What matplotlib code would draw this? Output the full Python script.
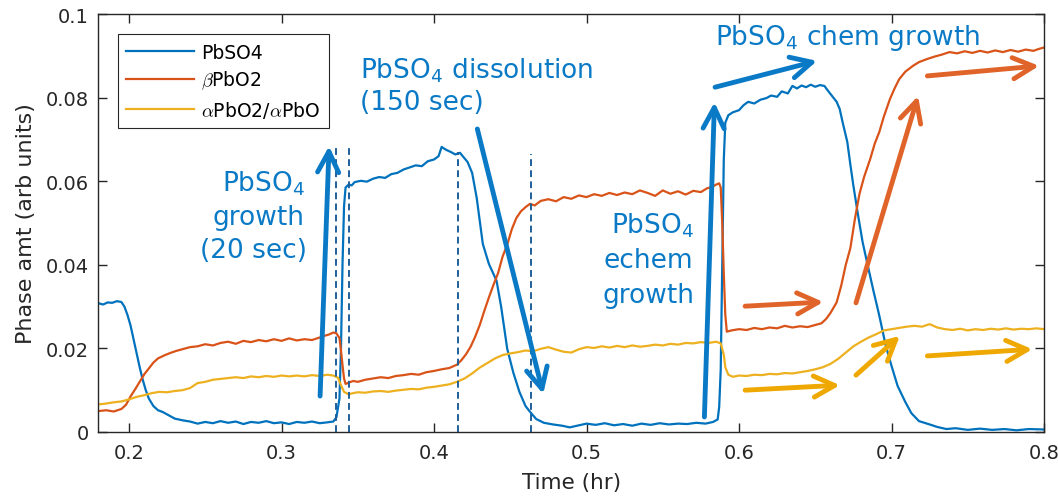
import matplotlib
matplotlib.use('Agg')
import numpy as np
from matplotlib import pyplot as plt
from matplotlib.font_manager import FontProperties

plt.rcParams['font.family'] = ['DejaVu Sans']
plt.rcParams['mathtext.fontset'] = 'dejavusans'

###################################################### data
t_pbso4 = [0.180, 0.183, 0.186, 0.189, 0.192, 0.195, 0.197, 0.199, 0.201, 0.203,
           0.205, 0.207, 0.209, 0.211, 0.213, 0.216, 0.219, 0.222, 0.226, 0.230,
           0.235, 0.240, 0.245, 0.250, 0.255, 0.260, 0.265, 0.270, 0.275, 0.280,
           0.285, 0.290, 0.295, 0.300, 0.305, 0.310, 0.315, 0.320, 0.325, 0.330,
           0.334, 0.336, 0.338, 0.339, 0.340, 0.341, 0.342, 0.344, 0.346, 0.348,
           0.352, 0.356, 0.360, 0.364, 0.368, 0.372, 0.376, 0.380, 0.384, 0.388,
           0.392, 0.396, 0.400, 0.403, 0.405, 0.408, 0.411, 0.414, 0.417, 0.420,
           0.422, 0.425, 0.428, 0.432, 0.436, 0.441, 0.444, 0.446, 0.448, 0.452,
           0.456, 0.460, 0.463, 0.467, 0.472, 0.478, 0.484, 0.489, 0.495, 0.500,
           0.506, 0.512, 0.518, 0.524, 0.530, 0.536, 0.542, 0.548, 0.554, 0.560,
           0.566, 0.572, 0.578, 0.583, 0.586, 0.587, 0.588, 0.589, 0.590, 0.591,
           0.593, 0.596, 0.600, 0.603, 0.606, 0.610, 0.614, 0.618, 0.621, 0.625,
           0.628, 0.632, 0.635, 0.638, 0.641, 0.644, 0.647, 0.650, 0.653, 0.656,
           0.658, 0.661, 0.664, 0.666, 0.668, 0.671, 0.673, 0.675, 0.678, 0.681,
           0.684, 0.688, 0.692, 0.696, 0.700, 0.704, 0.709, 0.713, 0.718, 0.725,
           0.730, 0.736, 0.742, 0.750, 0.758, 0.766, 0.774, 0.782, 0.790, 0.800]
v_pbso4 = [0.0308, 0.0305, 0.0310, 0.0309, 0.0313, 0.0311, 0.0300, 0.0280, 0.0255, 0.0222,
           0.0190, 0.0155, 0.0125, 0.0100, 0.0080, 0.0062, 0.0052, 0.0048, 0.0040, 0.0032,
           0.0028, 0.0025, 0.0020, 0.0024, 0.0021, 0.0026, 0.0022, 0.0025, 0.0019, 0.0024,
           0.0022, 0.0026, 0.0021, 0.0023, 0.0019, 0.0024, 0.0022, 0.0025, 0.0021, 0.0023,
           0.0025, 0.0035, 0.0080, 0.0200, 0.0400, 0.0540, 0.0585, 0.0592, 0.0590, 0.0598,
           0.0601, 0.0599, 0.0606, 0.0610, 0.0608, 0.0617, 0.0620, 0.0628, 0.0633, 0.0638,
           0.0636, 0.0648, 0.0652, 0.0660, 0.0682, 0.0675, 0.0670, 0.0664, 0.0668, 0.0655,
           0.0646, 0.0620, 0.0560, 0.0450, 0.0402, 0.0362, 0.0300, 0.0250, 0.0199, 0.0142,
           0.0096, 0.0062, 0.0048, 0.0031, 0.0022, 0.0018, 0.0015, 0.0011, 0.0016, 0.0020,
           0.0017, 0.0021, 0.0016, 0.0019, 0.0015, 0.0020, 0.0017, 0.0021, 0.0018, 0.0020,
           0.0019, 0.0022, 0.0020, 0.0024, 0.0030, 0.0060, 0.0150, 0.0400, 0.0650, 0.0740,
           0.0758, 0.0765, 0.0770, 0.0782, 0.0790, 0.0786, 0.0795, 0.0799, 0.0805, 0.0802,
           0.0815, 0.0810, 0.0828, 0.0822, 0.0829, 0.0825, 0.0831, 0.0826, 0.0830, 0.0828,
           0.0818, 0.0804, 0.0790, 0.0773, 0.0740, 0.0694, 0.0640, 0.0589, 0.0520, 0.0455,
           0.0405, 0.0340, 0.0278, 0.0210, 0.0158, 0.0110, 0.0072, 0.0045, 0.0026, 0.0018,
           0.0012, 0.0007, 0.0009, 0.0005, 0.0008, 0.0005, 0.0007, 0.0004, 0.0007, 0.0006]

t_beta = [0.180, 0.185, 0.190, 0.195, 0.198, 0.201, 0.204, 0.207, 0.210, 0.213,
          0.216, 0.219, 0.223, 0.227, 0.231, 0.235, 0.240, 0.245, 0.250, 0.255,
          0.260, 0.265, 0.270, 0.275, 0.280, 0.285, 0.290, 0.295, 0.300, 0.305,
          0.310, 0.315, 0.320, 0.325, 0.328, 0.331, 0.334, 0.336, 0.338, 0.339,
          0.340, 0.341, 0.342, 0.344, 0.347, 0.350, 0.355, 0.360, 0.365, 0.370,
          0.375, 0.380, 0.385, 0.390, 0.395, 0.400, 0.405, 0.410, 0.415, 0.418,
          0.421, 0.424, 0.427, 0.430, 0.433, 0.436, 0.439, 0.442, 0.445, 0.448,
          0.451, 0.454, 0.457, 0.460, 0.463, 0.466, 0.470, 0.475, 0.480, 0.485,
          0.490, 0.495, 0.500, 0.505, 0.510, 0.515, 0.520, 0.525, 0.530, 0.535,
          0.540, 0.545, 0.550, 0.555, 0.560, 0.565, 0.570, 0.575, 0.579, 0.582,
          0.585, 0.587, 0.588, 0.589, 0.590, 0.591, 0.592, 0.595, 0.600, 0.605,
          0.610, 0.615, 0.620, 0.625, 0.630, 0.635, 0.640, 0.645, 0.650, 0.654,
          0.657, 0.660, 0.664, 0.667, 0.670, 0.673, 0.676, 0.679, 0.682, 0.686,
          0.689, 0.692, 0.695, 0.699, 0.702, 0.705, 0.709, 0.714, 0.718, 0.723,
          0.728, 0.733, 0.738, 0.743, 0.748, 0.753, 0.758, 0.763, 0.768, 0.773,
          0.778, 0.783, 0.788, 0.793, 0.797, 0.800]
v_beta = [0.0050, 0.0052, 0.0049, 0.0055, 0.0065, 0.0085, 0.0102, 0.0120, 0.0138, 0.0152,
          0.0166, 0.0176, 0.0183, 0.0189, 0.0194, 0.0198, 0.0203, 0.0205, 0.0210, 0.0207,
          0.0213, 0.0216, 0.0211, 0.0218, 0.0215, 0.0220, 0.0217, 0.0222, 0.0218, 0.0224,
          0.0219, 0.0222, 0.0220, 0.0226, 0.0230, 0.0233, 0.0238, 0.0236, 0.0225, 0.0195,
          0.0160, 0.0128, 0.0115, 0.0118, 0.0122, 0.0120, 0.0125, 0.0128, 0.0131, 0.0129,
          0.0134, 0.0136, 0.0139, 0.0137, 0.0143, 0.0146, 0.0150, 0.0153, 0.0161, 0.0172,
          0.0186, 0.0204, 0.0228, 0.0256, 0.0290, 0.0322, 0.0352, 0.0380, 0.0420, 0.0448,
          0.0485, 0.0512, 0.0528, 0.0538, 0.0546, 0.0542, 0.0553, 0.0557, 0.0552, 0.0562,
          0.0558, 0.0566, 0.0562, 0.0569, 0.0565, 0.0572, 0.0567, 0.0573, 0.0569, 0.0578,
          0.0572, 0.0565, 0.0578, 0.0570, 0.0576, 0.0568, 0.0577, 0.0574, 0.0583, 0.0586,
          0.0592, 0.0595, 0.0585, 0.0500, 0.0380, 0.0280, 0.0240, 0.0243, 0.0246, 0.0244,
          0.0249, 0.0246, 0.0250, 0.0248, 0.0254, 0.0250, 0.0253, 0.0251, 0.0256, 0.0260,
          0.0270, 0.0285, 0.0310, 0.0350, 0.0400, 0.0440, 0.0510, 0.0570, 0.0610, 0.0653,
          0.0690, 0.0718, 0.0755, 0.0797, 0.0822, 0.0844, 0.0862, 0.0876, 0.0885, 0.0892,
          0.0898, 0.0903, 0.0909, 0.0906, 0.0911, 0.0907, 0.0912, 0.0908, 0.0913, 0.0909,
          0.0914, 0.0910, 0.0915, 0.0912, 0.0917, 0.0920]

t_alpha = [0.180, 0.185, 0.190, 0.195, 0.200, 0.205, 0.210, 0.215, 0.220, 0.225,
           0.230, 0.235, 0.240, 0.245, 0.250, 0.255, 0.260, 0.265, 0.270, 0.275,
           0.280, 0.285, 0.290, 0.295, 0.300, 0.305, 0.310, 0.315, 0.320, 0.325,
           0.330, 0.334, 0.337, 0.339, 0.341, 0.344, 0.347, 0.350, 0.355, 0.360,
           0.365, 0.370, 0.375, 0.380, 0.385, 0.390, 0.395, 0.400, 0.405, 0.410,
           0.415, 0.420, 0.425, 0.430, 0.435, 0.440, 0.445, 0.450, 0.455, 0.460,
           0.465, 0.470, 0.475, 0.480, 0.485, 0.490, 0.495, 0.500, 0.505, 0.510,
           0.515, 0.520, 0.525, 0.530, 0.535, 0.540, 0.545, 0.550, 0.555, 0.560,
           0.565, 0.570, 0.575, 0.580, 0.585, 0.588, 0.590, 0.591, 0.593, 0.596,
           0.600, 0.605, 0.610, 0.615, 0.620, 0.625, 0.630, 0.635, 0.640, 0.645,
           0.650, 0.655, 0.660, 0.665, 0.670, 0.675, 0.680, 0.685, 0.690, 0.695,
           0.700, 0.705, 0.710, 0.715, 0.720, 0.725, 0.730, 0.735, 0.740, 0.745,
           0.750, 0.755, 0.760, 0.765, 0.770, 0.775, 0.780, 0.785, 0.790, 0.795,
           0.800]
v_alpha = [0.0066, 0.0068, 0.0071, 0.0073, 0.0078, 0.0084, 0.0088, 0.0093, 0.0096, 0.0095,
           0.0098, 0.0100, 0.0105, 0.0117, 0.0120, 0.0125, 0.0127, 0.0129, 0.0131, 0.0129,
           0.0133, 0.0131, 0.0134, 0.0132, 0.0135, 0.0133, 0.0135, 0.0133, 0.0136, 0.0134,
           0.0137, 0.0135, 0.0130, 0.0112, 0.0096, 0.0090, 0.0093, 0.0095, 0.0094, 0.0097,
           0.0098, 0.0096, 0.0099, 0.0101, 0.0103, 0.0102, 0.0106, 0.0108, 0.0111, 0.0114,
           0.0120, 0.0128, 0.0140, 0.0154, 0.0165, 0.0176, 0.0184, 0.0188, 0.0191, 0.0195,
           0.0193, 0.0199, 0.0203, 0.0197, 0.0192, 0.0190, 0.0198, 0.0203, 0.0201, 0.0205,
           0.0202, 0.0206, 0.0203, 0.0207, 0.0204, 0.0206, 0.0209, 0.0207, 0.0211, 0.0209,
           0.0213, 0.0212, 0.0215, 0.0213, 0.0216, 0.0212, 0.0185, 0.0155, 0.0137, 0.0132,
           0.0135, 0.0134, 0.0137, 0.0136, 0.0139, 0.0138, 0.0141, 0.0140, 0.0143, 0.0146,
           0.0150, 0.0155, 0.0163, 0.0175, 0.0190, 0.0205, 0.0216, 0.0226, 0.0234, 0.0243,
           0.0246, 0.0249, 0.0252, 0.0254, 0.0252, 0.0258, 0.0250, 0.0246, 0.0244, 0.0247,
           0.0243, 0.0246, 0.0244, 0.0247, 0.0245, 0.0248, 0.0245, 0.0247, 0.0246, 0.0248,
           0.0246]

# dashed markers: time, top
dash_t = [0.3357, 0.3443, 0.4156, 0.4636]
dash_top = [0.068, 0.068, 0.067, 0.0665]

# annotation arrows: (tail x, tail y, tip x, tip y)
blue_arrows = [(0.3253, 0.0086, 0.3312, 0.0684),
               (0.4284, 0.0725, 0.4716, 0.0091),
               (0.5773, 0.0036, 0.5839, 0.0789),
               (0.5843, 0.0825, 0.6512, 0.0888)]
orange_arrows = [(0.6040, 0.0301, 0.6553, 0.0311),
                 (0.6767, 0.0309, 0.7174, 0.0804),
                 (0.7235, 0.0852, 0.7968, 0.0876)]
yellow_arrows = [(0.6040, 0.0100, 0.6662, 0.0112),
                 (0.6767, 0.0136, 0.7055, 0.0230),
                 (0.7235, 0.0182, 0.7924, 0.0198)]

# annotation text, one entry per line: (x, baseline y, text, alignment)
notes = [(0.3154, 0.0577, 'PbSO$_4$', 'right'),
         (0.3154, 0.0498, 'growth', 'right'),
         (0.3170, 0.0419, '(20 sec)', 'right'),
         (0.3515, 0.0849, 'PbSO$_4$ dissolution', 'left'),
         (0.3515, 0.0773, '(150 sec)', 'left'),
         (0.5705, 0.0478, 'PbSO$_4$', 'right'),
         (0.5700, 0.0395, 'echem', 'right'),
         (0.5705, 0.0311, 'growth', 'right'),
         (0.5842, 0.0928, 'PbSO$_4$ chem growth', 'left')]

c_blue = '#0072BD'
c_orange = '#D95319'
c_yellow = '#EDB120'
a_blue = '#0A7AC6'
a_orange = '#E0642A'
a_yellow = '#EEA800'

###################################################### plot
fig = plt.figure(figsize=(10.58, 5.02), dpi=100)
ax = fig.add_axes([0.0931, 0.1375, 0.8937, 0.8325])

ax.plot(t_pbso4, v_pbso4, color=c_blue, lw=1.6, label='PbSO4')
ax.plot(t_beta, v_beta, color=c_orange, lw=1.6, label=r'$\beta$PbO2')
ax.plot(t_alpha, v_alpha, color=c_yellow, lw=1.6, label=r'$\alpha$PbO2/$\alpha$PbO')

for t, top in zip(dash_t, dash_top):
    ax.plot([t, t], [0, top], color='#1F5F9A', lw=1.4, ls=(0, (3.5, 2.2)))

for arrows, col in [(blue_arrows, a_blue), (orange_arrows, a_orange), (yellow_arrows, a_yellow)]:
    for x0, y0, x1, y1 in arrows:
        ax.annotate('', xy=(x1, y1), xytext=(x0, y0),
                    arrowprops=dict(arrowstyle='->,head_length=0.75,head_width=0.38',
                                    lw=3.5, color=col, mutation_scale=20,
                                    shrinkA=0, shrinkB=0))

for x, y, s, ha in notes:
    ax.text(x, y, s, color=a_blue, fontsize=19, ha=ha, va='baseline')

ax.set_xlim(0.18, 0.8)
ax.set_ylim(0, 0.1)
ax.set_xticks([0.2, 0.3, 0.4, 0.5, 0.6, 0.7, 0.8])
ax.set_xticklabels(['0.2', '0.3', '0.4', '0.5', '0.6', '0.7', '0.8'])
ax.set_yticks([0, 0.02, 0.04, 0.06, 0.08, 0.1])
ax.set_yticklabels(['0', '0.02', '0.04', '0.06', '0.08', '0.1'])
ax.tick_params(direction='in', top=True, right=True, length=6.5, width=1,
               labelsize=14, colors='#262626')
ax.tick_params(axis='x', pad=8)
ax.tick_params(axis='y', pad=7)
for s in ax.spines.values():
    s.set_color('#262626')
    s.set_linewidth(1)
ax.set_xlabel('Time (hr)', fontsize=15.5, color='#262626', labelpad=7)
ax.set_ylabel('Phase amt (arb units)', fontsize=16, color='#262626', labelpad=7)

leg = ax.legend(loc='upper left', bbox_to_anchor=(0.0206, 0.952), fancybox=False,
                framealpha=1, edgecolor='#262626', handlelength=3.6, labelspacing=0.39,
                borderpad=0.45, borderaxespad=0, handletextpad=0.4,
                prop=FontProperties(family='DejaVu Sans', size=13.5, math_fontfamily='cm'))
leg.get_frame().set_linewidth(0.8)

fig.savefig('out.png', dpi=100)
